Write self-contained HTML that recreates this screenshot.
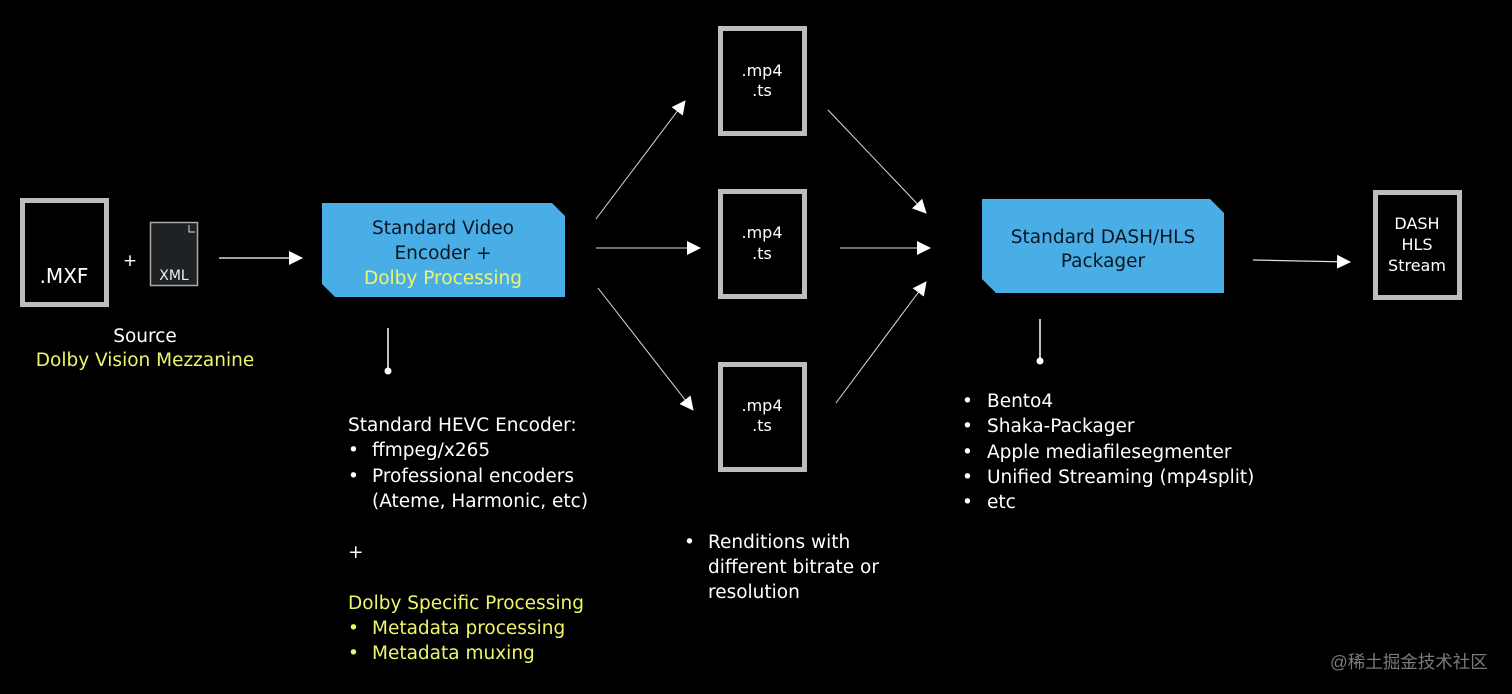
<!DOCTYPE html>
<html><head><meta charset="utf-8"><style>
html,body{margin:0;padding:0;background:#000;}
svg{display:block}
text{font-family:"DejaVu Sans","Liberation Sans",sans-serif;}
</style></head><body>
<svg width="1512" height="694" viewBox="0 0 1512 694" xmlns="http://www.w3.org/2000/svg">
<defs>
<marker id="ah2" markerWidth="14" markerHeight="14" refX="13" refY="7" orient="auto" markerUnits="userSpaceOnUse" viewBox="0 0 14 14">
<path d="M0,0 L14,7 L0,14 Z" fill="#fff"/></marker>
</defs>
<rect width="1512" height="694" fill="#000"/>
<!-- MXF -->
<rect x="22.5" y="200.5" width="84" height="104" fill="#000" stroke="#bdbdbd" stroke-width="5"/>
<text x="64" y="283" fill="#fff" font-size="20" text-anchor="middle">.MXF</text>
<text x="130" y="266" fill="#fff" font-size="17" text-anchor="middle">+</text>
<rect x="150.5" y="222.5" width="47" height="63" fill="#1e2224" stroke="#a9a9a9" stroke-width="1.5"/>
<path d="M189,225 L189,232 L195,232" fill="none" stroke="#ddd" stroke-width="1"/>
<text x="174" y="280" fill="#eee" font-size="14" text-anchor="middle">XML</text>
<line x1="219" y1="258" x2="302" y2="258" stroke="#fff" stroke-width="1.2" marker-end="url(#ah2)"/>
<text x="145" y="342" fill="#fff" font-size="18.5" text-anchor="middle">Source</text>
<text x="145" y="366" fill="#eef56a" font-size="18.5" text-anchor="middle">Dolby Vision Mezzanine</text>
<!-- Encoder -->
<path d="M322,203 L552,203 L565,216 L565,297 L335,297 L322,284 Z" fill="#4aaee6"/>
<text x="443" y="234" fill="#0b1620" font-size="18.5" text-anchor="middle">Standard Video</text>
<text x="443" y="259" fill="#0b1620" font-size="18.5" text-anchor="middle">Encoder +</text>
<text x="443" y="284" fill="#eef56a" font-size="18.5" text-anchor="middle">Dolby Processing</text>
<line x1="388" y1="328" x2="388" y2="370" stroke="#fff" stroke-width="1.5"/>
<circle cx="388" cy="371" r="3.5" fill="#fff"/>
<g font-size="18.5" fill="#fff">
<text x="348" y="431">Standard HEVC Encoder:</text>
<text x="348" y="456">•</text><text x="372" y="456">ffmpeg/x265</text>
<text x="348" y="482">•</text><text x="372" y="482">Professional encoders</text>
<text x="372" y="507">(Ateme, Harmonic, etc)</text>
<text x="348" y="558">+</text>
</g>
<g font-size="18.5" fill="#eef56a">
<text x="348" y="609">Dolby Specific Processing</text>
<text x="348" y="634">•</text><text x="372" y="634">Metadata processing</text>
<text x="348" y="659">•</text><text x="372" y="659">Metadata muxing</text>
</g>
<!-- fan out arrows -->
<line x1="596" y1="219" x2="685" y2="101" stroke="#ddd" stroke-width="1" marker-end="url(#ah2)"/>
<line x1="596" y1="248" x2="700" y2="248" stroke="#ddd" stroke-width="1" marker-end="url(#ah2)"/>
<line x1="598" y1="288" x2="693" y2="410" stroke="#ddd" stroke-width="1" marker-end="url(#ah2)"/>
<!-- mp4 boxes -->
<g fill="#000" stroke="#bdbdbd" stroke-width="5">
<rect x="720.5" y="28.5" width="84" height="105"/>
<rect x="720.5" y="191.5" width="84" height="105"/>
<rect x="720.5" y="364.5" width="84" height="105"/>
</g>
<g font-size="16" fill="#fff" text-anchor="middle">
<text x="762" y="76">.mp4</text><text x="762" y="96">.ts</text>
<text x="762" y="238">.mp4</text><text x="762" y="259">.ts</text>
<text x="762" y="411">.mp4</text><text x="762" y="431">.ts</text>
</g>
<g font-size="18.5" fill="#fff">
<text x="684" y="548">•</text><text x="708" y="548">Renditions with</text>
<text x="708" y="573">different bitrate or</text>
<text x="708" y="598">resolution</text>
</g>
<!-- fan in -->
<line x1="828" y1="110" x2="926" y2="213" stroke="#ddd" stroke-width="1" marker-end="url(#ah2)"/>
<line x1="840" y1="248" x2="930" y2="248" stroke="#ddd" stroke-width="1" marker-end="url(#ah2)"/>
<line x1="836" y1="403" x2="926" y2="282" stroke="#ddd" stroke-width="1" marker-end="url(#ah2)"/>
<!-- Packager -->
<path d="M982,199 L1210,199 L1224,213 L1224,293 L996,293 L982,279 Z" fill="#4aaee6"/>
<text x="1103" y="243" fill="#0b1620" font-size="18.5" text-anchor="middle">Standard DASH/HLS</text>
<text x="1103" y="267" fill="#0b1620" font-size="18.5" text-anchor="middle">Packager</text>
<line x1="1040" y1="319" x2="1040" y2="360" stroke="#fff" stroke-width="1.5"/>
<circle cx="1040" cy="361" r="3.5" fill="#fff"/>
<g font-size="18.5" fill="#fff">
<text x="962" y="407">•</text><text x="987" y="407">Bento4</text>
<text x="962" y="432">•</text><text x="987" y="432">Shaka-Packager</text>
<text x="962" y="458">•</text><text x="987" y="458">Apple mediafilesegmenter</text>
<text x="962" y="483">•</text><text x="987" y="483">Unified Streaming (mp4split)</text>
<text x="962" y="508">•</text><text x="987" y="508">etc</text>
</g>
<line x1="1253" y1="260" x2="1350" y2="262" stroke="#ddd" stroke-width="1.2" marker-end="url(#ah2)"/>
<rect x="1375.5" y="192.5" width="84" height="105" fill="#000" stroke="#bdbdbd" stroke-width="5"/>
<g font-size="16" fill="#fff" text-anchor="middle">
<text x="1417" y="229">DASH</text><text x="1417" y="250">HLS</text><text x="1417" y="271">Stream</text>
</g>
<text x="1330" y="668" fill="#7a7a7a" font-size="17.5" style='font-family:"Liberation Sans","Noto Sans CJK SC",sans-serif'>@稀土掘金技术社区</text>
</svg>
</body></html>
